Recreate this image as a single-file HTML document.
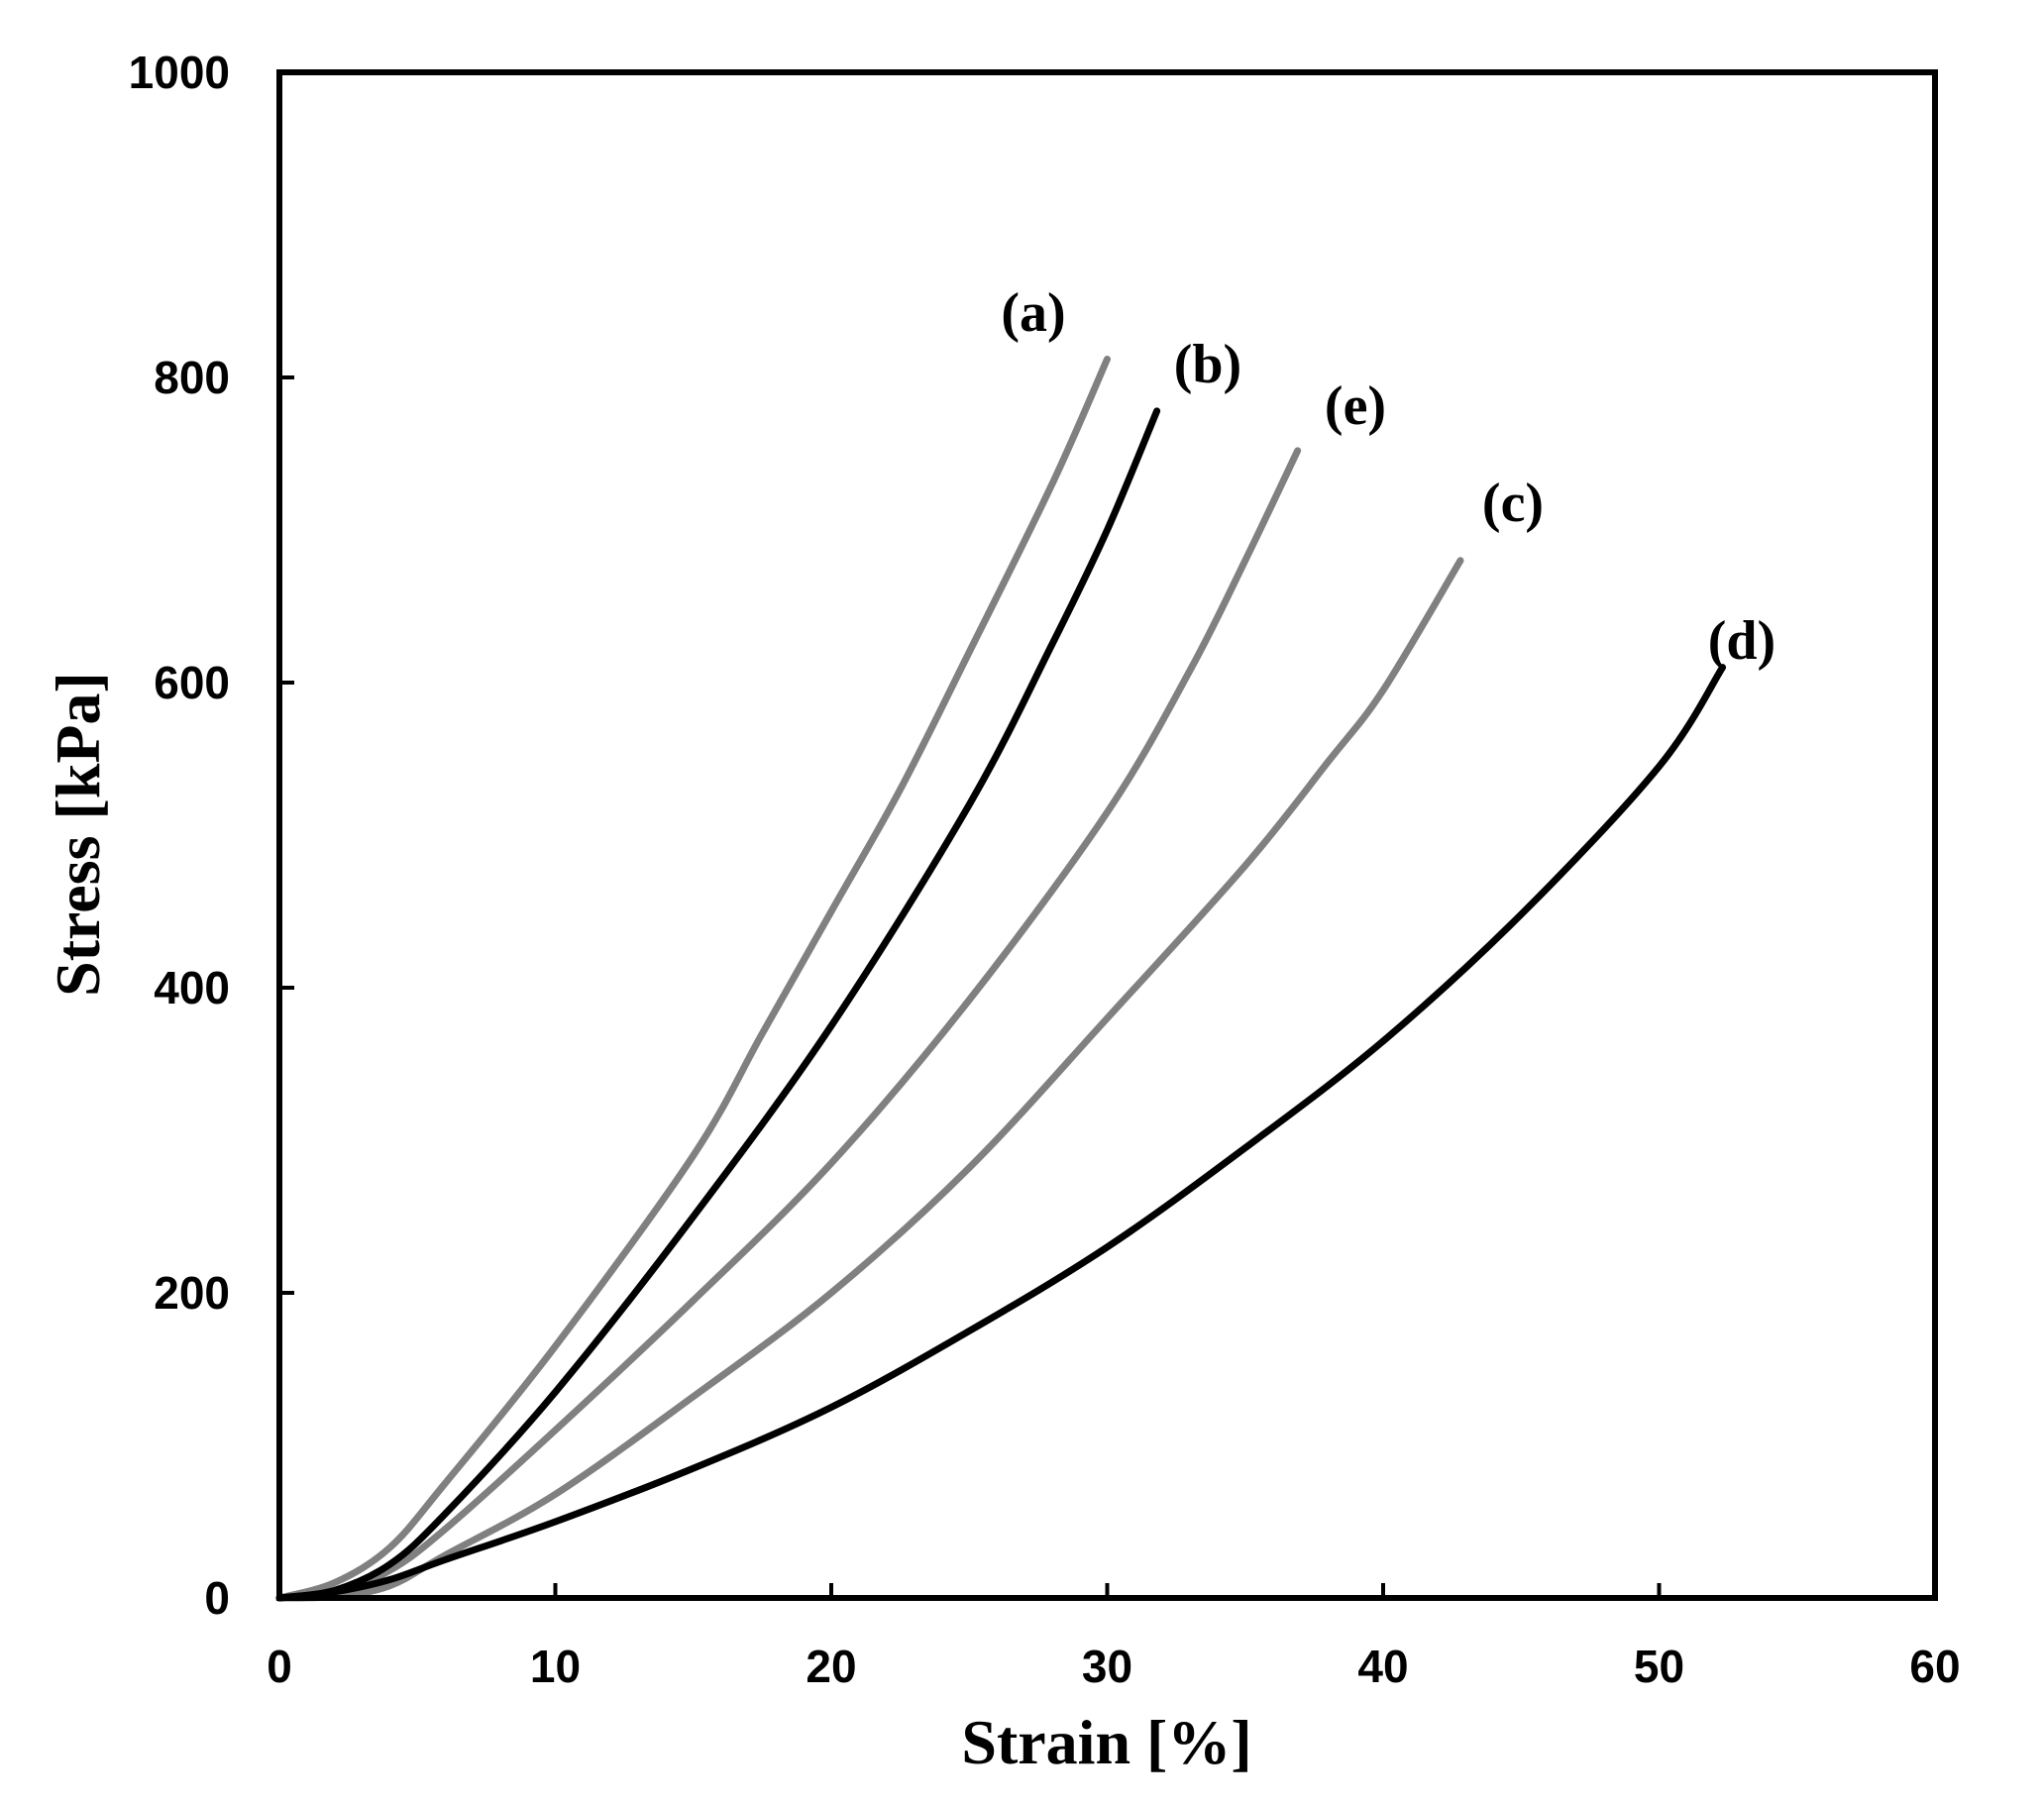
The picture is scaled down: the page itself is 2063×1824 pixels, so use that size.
<!DOCTYPE html>
<html><head><meta charset="utf-8"><style>
html,body{margin:0;padding:0;background:#fff;}
svg{display:block;}
.t{font-family:"Liberation Sans",sans-serif;font-weight:bold;font-size:46px;fill:#000;}
.s{font-family:"Liberation Serif",serif;font-weight:bold;fill:#000;}
</style></head><body>
<svg id="c" width="2063" height="1824" viewBox="0 0 2063 1824" xmlns="http://www.w3.org/2000/svg">
<rect x="0" y="0" width="2063" height="1824" fill="#fff"/>
<g id="curves" fill="none" stroke-width="7" stroke-linejoin="round" stroke-linecap="round"></g>
<rect x="282" y="73" width="1671" height="1540" fill="none" stroke="#000" stroke-width="6"/>
<g stroke="#000" stroke-width="4">
<line x1="282" y1="1305" x2="297" y2="1305"/><line x1="282" y1="997" x2="297" y2="997"/>
<line x1="282" y1="689" x2="297" y2="689"/><line x1="282" y1="381" x2="297" y2="381"/>
<line x1="560.5" y1="1613" x2="560.5" y2="1598"/><line x1="839" y1="1613" x2="839" y2="1598"/>
<line x1="1117.5" y1="1613" x2="1117.5" y2="1598"/><line x1="1396" y1="1613" x2="1396" y2="1598"/>
<line x1="1674.5" y1="1613" x2="1674.5" y2="1598"/>
</g>
<g class="t" text-anchor="end">
<text x="232" y="1629">0</text><text x="232" y="1321">200</text><text x="232" y="1013">400</text>
<text x="232" y="705">600</text><text x="232" y="397">800</text><text x="232" y="89">1000</text>
</g>
<g class="t" text-anchor="middle">
<text x="282" y="1698">0</text><text x="560.5" y="1698">10</text><text x="839" y="1698">20</text>
<text x="1117.5" y="1698">30</text><text x="1396" y="1698">40</text><text x="1674.5" y="1698">50</text>
<text x="1953" y="1698">60</text>
</g>
<text class="s" x="1117" y="1780" font-size="64" text-anchor="middle">Strain [%]</text>
<text class="s" x="0" y="0" font-size="64" text-anchor="middle" transform="translate(100,842) rotate(-90)">Stress [kPa]</text>
<g class="s" font-size="56" text-anchor="middle">
<text x="1043" y="334">(a)</text><text x="1219" y="386">(b)</text><text x="1368" y="428">(e)</text>
<text x="1527" y="526">(c)</text><text x="1758" y="665">(d)</text>
</g>
</svg>
<script>
var X=function(s){return 282+s*1671/60;},Y=function(p){return 1613-p*1.54;};
var data=[
["#808080",[[0,0],[2,10],[4,33],[6,75],[10,165],[15,290],[17.5,370],[20,450],[22.5,530],[25,620],[28,730],[30,812]]],
["#000",[[0,0],[2,5],[4,22],[6,55],[10,135],[15,250],[20,375],[25,520],[28,625],[30,700],[31.8,778]]],
["#808080",[[0,0],[2,3],[4,18],[6,45],[10,110],[15,195],[20,285],[25,392],[30,515],[33,608],[35,680],[36.9,752]]],
["#808080",[[0,0],[2,1],[4,8],[6,28],[10,68],[15,132],[20,200],[25,282],[30,380],[35,480],[38,548],[40,595],[42.8,680]]],
["#000",[[0,0],[2,4],[4,12],[6,25],[10,50],[15,85],[20,125],[25,175],[30,230],[35,295],[40,365],[45,448],[50,545],[52.3,610]]]
];
var g=document.getElementById("curves"),order=[3,2,0,4,1];
order.forEach(function(i){var c=data[i],p=c[1].map(function(q){return[X(q[0]),Y(q[1])];});
var d="M"+p[0][0]+","+p[0][1];
for(var k=0;k<p.length-1;k++){var p0=p[k-1]||p[k],p1=p[k],p2=p[k+1],p3=p[k+2]||p2;
d+=" C"+(p1[0]+(p2[0]-p0[0])/6)+","+(p1[1]+(p2[1]-p0[1])/6)+" "+(p2[0]-(p3[0]-p1[0])/6)+","+(p2[1]-(p3[1]-p1[1])/6)+" "+p2[0]+","+p2[1];}
var e=document.createElementNS("http://www.w3.org/2000/svg","path");e.setAttribute("d",d);e.setAttribute("stroke",c[0]);g.appendChild(e);});
</script>
</body></html>
